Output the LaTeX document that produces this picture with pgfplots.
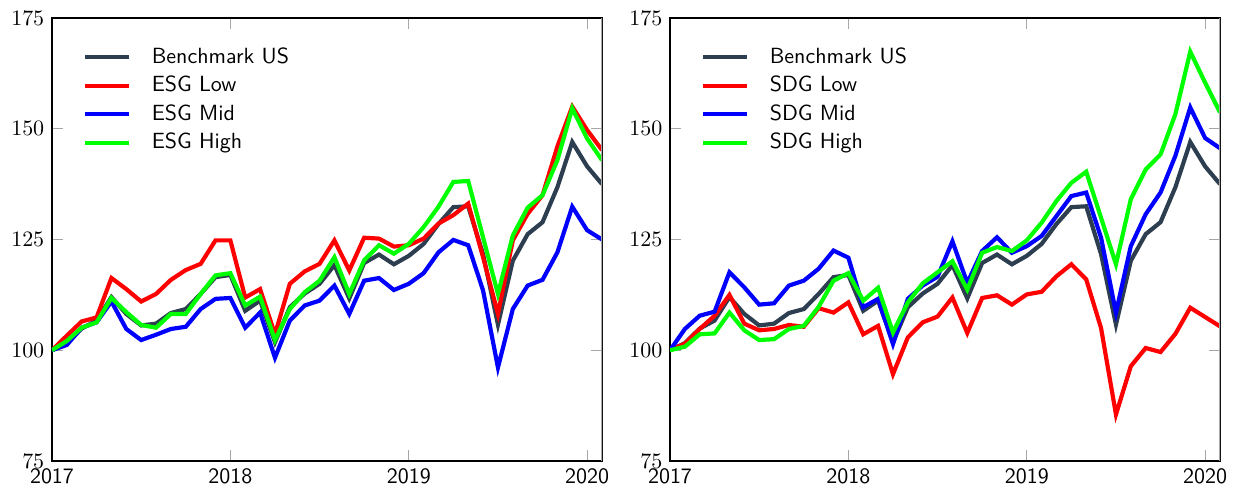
\documentclass[border=0pt]{standalone}
\usepackage{pgfplots}
\usepackage{pgfplotstable}
\pgfplotsset{compat=1.18}
\definecolor{bench}{HTML}{2C3E50}

% m = months since Jan 2017
\pgfplotstableread{
m bench low mid high
0 100 100 100 100
1 101.6 103.3 101.2 102.1
2 104.9 106.5 105.1 105.1
3 106.7 107.4 106.3 106.3
4 112.0 116.3 111.0 111.8
5 108.2 113.8 104.8 108.6
6 105.6 111.0 102.3 105.7
7 106.0 112.7 103.5 105.1
8 108.4 115.9 104.8 108.2
9 109.3 118.1 105.3 108.2
10 112.7 119.5 109.3 112.7
11 116.5 124.8 111.6 116.9
12 117.0 124.8 111.8 117.4
13 108.9 111.9 105.1 110.1
14 111.2 113.8 108.5 112.1
15 101.8 103.6 98.3 102.3
16 109.7 115.0 106.7 109.3
17 112.8 117.8 110.1 113.1
18 115.0 119.5 111.2 115.7
19 119.2 124.8 114.6 121.0
20 111.7 118.0 108.2 112.7
21 119.7 125.4 115.7 120.3
22 121.6 125.2 116.3 123.7
23 119.4 123.4 113.6 121.8
24 121.3 123.7 115.0 124.0
25 124.0 125.2 117.4 127.8
26 128.5 128.6 122.1 132.4
27 132.3 130.5 124.9 138.0
28 132.5 133.1 123.7 138.2
29 121.7 121.0 113.5 125.5
30 105.8 108.2 96.1 112.7
31 120.2 124.8 109.3 125.9
32 126.2 130.8 114.6 132.2
33 128.9 135.0 115.9 135.0
34 136.8 146.0 122.1 142.9
35 147.0 155.0 132.4 154.6
36 141.5 149.7 127.1 147.8
37 137.5 145.2 125.0 142.9
}\esgtable

\pgfplotstableread{
m bench low mid high
0 100 100 100 100
1 101.6 101.5 104.8 100.8
2 104.9 104.8 107.8 103.6
3 106.7 107.8 108.7 103.8
4 112.0 112.5 117.6 108.5
5 108.2 106.0 114.2 104.5
6 105.6 104.5 110.3 102.3
7 106.0 104.8 110.6 102.5
8 108.4 105.7 114.6 104.8
9 109.3 105.3 115.7 105.5
10 112.7 109.5 118.4 109.8
11 116.5 108.5 122.5 115.7
12 117.0 110.8 120.9 117.4
13 108.9 103.6 109.7 111.2
14 111.2 105.5 111.6 114.1
15 101.8 94.6 101.4 104.0
16 109.7 102.9 111.6 110.8
17 112.8 106.3 114.6 115.1
18 115.0 107.6 116.6 117.6
19 119.2 111.9 124.6 120.1
20 111.7 103.9 115.2 113.7
21 119.7 111.8 122.4 122.0
22 121.6 112.4 125.5 123.3
23 119.4 110.3 122.0 122.4
24 121.3 112.6 123.5 124.8
25 124.0 113.2 125.8 128.8
26 128.5 116.7 130.3 133.7
27 132.3 119.4 134.8 137.8
28 132.5 116.0 135.6 140.3
29 121.7 105.0 125.4 129.9
30 105.8 85.5 108.5 119.4
31 120.2 96.4 123.5 134.1
32 126.2 100.5 130.7 140.8
33 128.9 99.6 135.6 144.2
34 136.8 103.7 143.9 153.3
35 147.0 109.6 154.8 167.4
36 141.5 107.5 147.9 160.4
37 137.5 105.4 145.6 153.7
}\sdgtable

\pgfplotsset{
  panel/.style={
    width=250.25pt, height=201.57pt, scale only axis,
    anchor=south west,
    xmin=2017, xmax=2020.0833, ymin=75, ymax=175,
    xtick={2017,2018,2019,2020},
    xticklabels={2017,2018,2019,2020},
    xticklabel style={font=\sffamily},
    ytick={75,100,125,150,175},
    major tick length=4.9pt,
    tick style={gray!70, line width=0.5pt},
    axis line style={black, line width=0.5pt},
    every axis plot/.append style={line width=1.9pt},
    legend cell align=left,
    legend image code/.code={\draw[#1] (0pt,0pt) -- (20pt,0pt);},
    legend style={draw=none, fill=none, at={(0,1)}, anchor=north west,
      xshift=11pt, yshift=-9.3pt, font=\sffamily, row sep=0.3pt,
      /tikz/every odd column/.append style={column sep=7.3pt}},
  }
}

\begin{document}
\begin{tikzpicture}
\useasboundingbox (-23.66pt,-13.65pt) rectangle (537.81pt,209.75pt);
\begin{axis}[panel, at={(0pt,0pt)}]
  \addplot[bench] table[x expr=2017+\thisrow{m}/12, y=bench] {\esgtable};
  \addlegendentry{Benchmark US}
  \addplot[red] table[x expr=2017+\thisrow{m}/12, y=low] {\esgtable};
  \addlegendentry{ESG Low}
  \addplot[blue] table[x expr=2017+\thisrow{m}/12, y=mid] {\esgtable};
  \addlegendentry{ESG Mid}
  \addplot[green] table[x expr=2017+\thisrow{m}/12, y=high] {\esgtable};
  \addlegendentry{ESG High}
  \draw[gray!70, line width=0.8pt] (rel axis cs:1,0) -- (rel axis cs:1,1);
\end{axis}
\begin{axis}[panel, at={(281.19pt,0pt)}]
  \addplot[bench] table[x expr=2017+\thisrow{m}/12, y=bench] {\sdgtable};
  \addlegendentry{Benchmark US}
  \addplot[red] table[x expr=2017+\thisrow{m}/12, y=low] {\sdgtable};
  \addlegendentry{SDG Low}
  \addplot[blue] table[x expr=2017+\thisrow{m}/12, y=mid] {\sdgtable};
  \addlegendentry{SDG Mid}
  \addplot[green] table[x expr=2017+\thisrow{m}/12, y=high] {\sdgtable};
  \addlegendentry{SDG High}
  \draw[gray!70, line width=0.8pt] (rel axis cs:1,0) -- (rel axis cs:1,1);
\end{axis}
\end{tikzpicture}
\end{document}
